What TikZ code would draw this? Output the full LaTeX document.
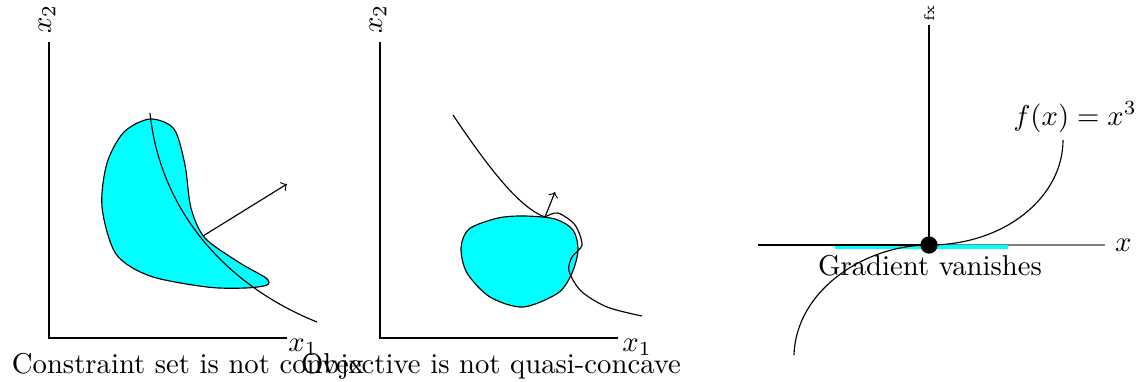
\documentclass[tikz,border=0pt]{standalone}
\usetikzlibrary{positioning}
\definecolor{aqua}{RGB}{0,255,255}
\tikzset{
  region/.style={draw=black, fill=aqua},
  levelcurve/.style={black, thin},
}
\begin{document}
\begin{tikzpicture}[x=0.3484pt, y=-0.3484pt]
		\useasboundingbox (0,0) rectangle (1138,381);
		
		% Left panel: non-convex constraint set
		\coordinate (LO) at (49,338);
		\coordinate (LX) at (287,338);
		\coordinate (LY) at (49,42);
		\draw (LY) -- (LO) -- (LX);
		\node[rotate=90] (Lxtwo) at (47,19) {$x_2$};
		\node (Lxone) at (303,347) {$x_1$};
		\draw[region] plot[smooth cycle] coordinates {(150,119) (174,129) (185,165) (191,208) (205,238) (240,263) (266,278) (267,285) (245,288) (207,287) (150,276) (116,254) (102,207) (107,163) (124,132)};
		\coordinate (Ltop) at (150,113);
		\coordinate (Lend) at (317,322);
		\draw[levelcurve] (Ltop) .. controls (160,210) and (225,285) .. (Lend);
		\coordinate (Ltan) at (203,236);
		\coordinate (Lgrad) at (287,184);
		\draw[->] (Ltan) -- (Lgrad);
		\node[anchor=base] (Ltext) at (188,373) {Constraint set is not convex};
		
		% Middle panel: objective not quasi-concave
		\coordinate (MO) at (380,338);
		\coordinate (MX) at (618,338);
		\coordinate (MY) at (380,42);
		\draw (MY) -- (MO) -- (MX);
		\node[rotate=90] (Mxtwo) at (378,19) {$x_2$};
		\node (Mxone) at (637,347) {$x_1$};
		\draw[region] plot[smooth cycle] coordinates {(461,248) (469,229) (498,218) (525,216) (555,219) (573,230) (578,250) (572,273) (558,293) (523,307) (490,297) (467,273)};
		\coordinate (Mtop) at (453,115);
		\coordinate (Mtan) at (545,217);
		\draw[levelcurve] (Mtop) .. controls (490,170) and (520,208) .. (Mtan);
		\draw[levelcurve] plot[smooth] coordinates {(545,217) (558,213) (575,225) (582,245) (572,257) (569,271) (581,291) (607,307) (642,316)};
		\coordinate (Mgrad) at (555,192);
		\draw[->] (Mtan) -- (Mgrad);
		\node[anchor=base] (Mtext) at (491,373) {Objective is not quasi-concave};
		
		% Right panel: f(x) = x^3
		\coordinate (RO) at (929,245);
		\coordinate (RL) at (758,245);
		\coordinate (RR) at (1105,245);
		\coordinate (RT) at (929,25);
		\coordinate (Rlow) at (794,355);
		\coordinate (Rhigh) at (1063,140);
		\draw[gray] (RL) -- (RR);
		\draw[aqua, line width=1.4pt] (835,246.5) -- (1008,246.5);
		\draw[semithick] (RL) -- (RO);
		\draw (RO) -- (RT);
		\node[rotate=90, font=\tiny, anchor=west, inner sep=1pt] (fxlabel) at (RT) {fx};
		\node[right=0pt of RR] (xlabel) {$x$};
		\fill (RO) circle (3pt);
		\draw[levelcurve] (Rlow) .. controls (796,290) and (865,245) .. (RO) .. controls (1005,245) and (1063,197) .. (Rhigh);
		\node (cubiclabel) at (1075,117) {$f(x)=x^3$};
		\node[anchor=base] (gradtext) at (930,275) {Gradient vanishes};
		
	\end{tikzpicture}
\end{document}
